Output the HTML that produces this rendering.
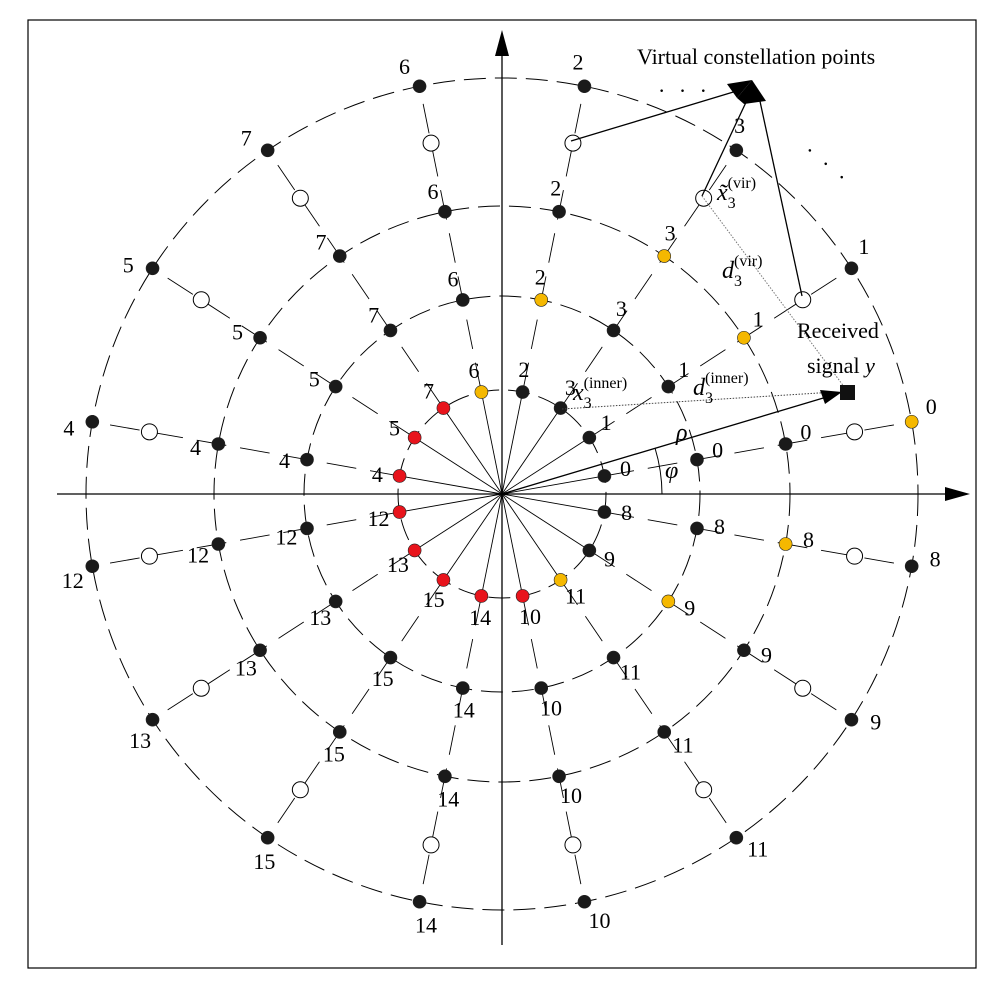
<!DOCTYPE html>
<html><head><meta charset="utf-8"><style>
html,body{margin:0;padding:0;background:#fff}
svg{display:block;font-family:"Liberation Serif",serif}
</style></head><body>
<svg id="chart" width="997" height="991" viewBox="0 0 997 991">
<rect x="28" y="20" width="948" height="948" fill="none" stroke="#000" stroke-width="1.2"/>
<g id="grid"></g>
<g id="spokes"></g>
<g id="axes">
<line x1="57" y1="494" x2="952" y2="494" stroke="#000" stroke-width="1.3"/>
<polygon points="970,494 945,487 945,501" fill="#000"/>
<line x1="502" y1="945" x2="502" y2="50" stroke="#000" stroke-width="1.3"/>
<polygon points="502,30 495,56 509,56" fill="#000"/>
</g>
<g id="points"></g>
<g id="labels" font-size="22"></g>
<g id="annot">
<text x="637" y="64" font-size="22">Virtual constellation points</text>
<text x="658" y="98" font-size="22" letter-spacing="4">· · ·</text>
<text x="800" y="160" font-size="22" transform="rotate(40 810 160)" letter-spacing="4">· · ·</text>
<line x1="571" y1="141" x2="740" y2="90" stroke="#000" stroke-width="1.3"/>
<line x1="702" y1="196" x2="748" y2="98" stroke="#000" stroke-width="1.3"/>
<line x1="802" y1="296" x2="758" y2="92" stroke="#000" stroke-width="1.3"/>
<polygon points="727,84 752,80 737,98" fill="#000"/>
<polygon points="752,80 766,101 744,104 737,98" fill="#000"/>
<line x1="702" y1="196" x2="845" y2="388" stroke="#777" stroke-width="1" stroke-dasharray="1.5,1.5"/>
<line x1="562" y1="409" x2="835" y2="392" stroke="#444" stroke-width="1" stroke-dasharray="1.5,1.5"/>
<line x1="502" y1="494" x2="830" y2="396" stroke="#000" stroke-width="1.3"/>
<polygon points="842,392 820,390 825,404" fill="#000"/>
<rect x="840" y="385" width="15" height="15" fill="#111"/>
<path d="M662,494 A160,160 0 0 0 655,448" fill="none" stroke="#000" stroke-width="1"/>
<text x="797" y="338" font-size="22">Received</text>
<text x="807" y="373" font-size="22">signal <tspan font-style="italic">y</tspan></text>
<text x="676" y="440" font-size="24" font-style="italic">ρ</text>
<text x="665" y="478" font-size="24" font-style="italic">φ</text>
<text x="717" y="200" font-size="24" font-style="italic">x̃<tspan font-size="16" dy="8" font-style="normal">3</tspan><tspan font-size="16" dy="-20" dx="-8" font-style="normal">(vir)</tspan></text>
<text x="722" y="278" font-size="24" font-style="italic">d<tspan font-size="16" dy="8" font-style="normal">3</tspan><tspan font-size="16" dy="-20" dx="-8" font-style="normal">(vir)</tspan></text>
<text x="573" y="400" font-size="24" font-style="italic">x<tspan font-size="16" dy="8" font-style="normal">3</tspan><tspan font-size="16" dy="-20" dx="-8" font-style="normal">(inner)</tspan></text>
<text x="693" y="395" font-size="24" font-style="italic">d<tspan font-size="16" dy="8" font-style="normal">3</tspan><tspan font-size="16" dy="-20" dx="-8" font-style="normal">(inner)</tspan></text>
</g>
</svg>
<script>
const cx = 502, cy = 494;
const ringRadii = [104, 198, 288, 416];
const virtualRadius = 358;
const upperLabels = [0, 1, 3, 2, 6, 7, 5, 4];
const lowerLabels = [12, 13, 15, 14, 10, 11, 9, 8];
const ring1Colors = ["b","b","b","b","y","r","r","r","r","r","r","r","r","y","b","b"];
const ring2Colors = ["b","b","b","y","b","b","b","b","b","b","b","b","b","b","y","b"];
const ring3Colors = ["b","y","y","b","b","b","b","b","b","b","b","b","b","b","b","y"];
const ring4Colors = ["y","b","b","b","b","b","b","b","b","b","b","b","b","b","b","b"];
const ringColors = [ring1Colors, ring2Colors, ring3Colors, ring4Colors];
const colorMap = {b:"#1a1a1a", y:"#f5b800", r:"#e8141c"};
const NS = "http://www.w3.org/2000/svg";
function angleOf(i){
  const step = 160/7;
  const deg = i < 8 ? 10 + i*step : 190 + (i-8)*step;
  return deg*Math.PI/180;
}
function px(r,a){return cx + r*Math.cos(a);}
function py(r,a){return cy - r*Math.sin(a);}
function mk(tag, attrs, parent){
  const e = document.createElementNS(NS, tag);
  for (const k in attrs) e.setAttribute(k, attrs[k]);
  parent.appendChild(e); return e;
}
const grid = document.getElementById('grid');
ringRadii.forEach((r, ri) => {
  const c = mk('circle', {cx:cx, cy:cy, r:r, fill:'none', stroke:'#000', 'stroke-width':1, 'stroke-dasharray':'22,9'}, grid);
  
  
});
const spokes = document.getElementById('spokes');
const allLabels = upperLabels.concat(lowerLabels);
for (let i = 0; i < 16; i++) {
  const a = angleOf(i);
  const s = mk('line', {x1:cx, y1:cy, x2:px(ringRadii[0],a), y2:py(ringRadii[0],a), stroke:'#000', 'stroke-width':0.9}, spokes);
  
  
  const d = mk('line', {x1:px(ringRadii[0],a), y1:py(ringRadii[0],a), x2:px(ringRadii[3],a), y2:py(ringRadii[3],a), stroke:'#000', 'stroke-width':0.9, 'stroke-dasharray':'30,14'}, spokes);
  
  
}
const pts = document.getElementById('points');
const labs = document.getElementById('labels');
for (let i = 0; i < 16; i++) {
  const a = angleOf(i);
  const v = mk('circle', {cx:px(virtualRadius,a), cy:py(virtualRadius,a), r:8, fill:'#fff', stroke:'#000', 'stroke-width':1}, pts);
  
  
  ringRadii.forEach((r, ri) => {
    const col = colorMap[ringColors[ri][i]];
    const p = mk('circle', {cx:px(r,a), cy:py(r,a), r:6.5, fill:col, stroke:'#222', 'stroke-width':0.6}, pts);
    
    
    const la = a + 0.025;
    const lr = r + 22;
    const t = mk('text', {x:px(lr,la), y:py(lr,la)+7, 'text-anchor':'middle'}, labs);
    t.textContent = allLabels[i];
    
    
  });
}
</script>
</body></html>
